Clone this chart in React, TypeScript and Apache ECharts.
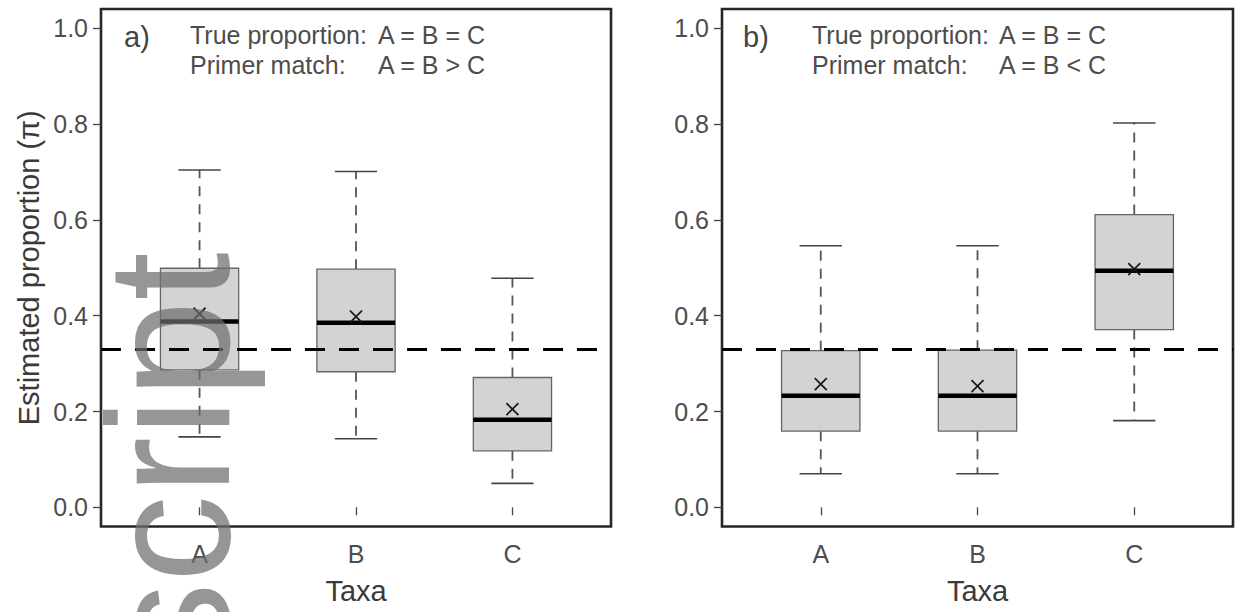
import React, { useEffect, useRef } from "react";
import * as echarts from "echarts";

const categories = ["A", "B", "C"];
const xPositions = [1, 2, 3];
const yTicks = [0, 0.2, 0.4, 0.6, 0.8, 1.0];
const trueProportion = 1 / 3;

// Panel a)
const aLower = [0.147, 0.143, 0.05];
const aQ1 = [0.287, 0.283, 0.118];
const aMedian = [0.388, 0.385, 0.183];
const aQ3 = [0.499, 0.497, 0.271];
const aUpper = [0.704, 0.701, 0.478];
const aMean = [0.404, 0.398, 0.205];

// Panel b)
const bLower = [0.07, 0.07, 0.181];
const bQ1 = [0.159, 0.159, 0.371];
const bMedian = [0.233, 0.233, 0.494];
const bQ3 = [0.327, 0.328, 0.611];
const bUpper = [0.546, 0.546, 0.802];
const bMean = [0.257, 0.253, 0.497];

const FONT = "'Liberation Sans', Arial, Helvetica, sans-serif";
const X_MIN = 0.37;
const X_MAX = 3.63;
const Y_MIN = -0.04;
const Y_MAX = 1.04;
const BOX_WIDTH = 0.5;
const CAP_WIDTH = 0.27;

function buildData(lo: number[], q1: number[], med: number[], q3: number[], up: number[], mean: number[]) {
  return xPositions.map((x, i) => [x, lo[i], q1[i], med[i], q3[i], up[i], mean[i]]);
}

function renderBox(params: any, api: any) {
  const x = api.value(0);
  const lo = api.value(1);
  const q1 = api.value(2);
  const med = api.value(3);
  const q3 = api.value(4);
  const up = api.value(5);
  const mean = api.value(6);
  const cx = api.coord([x, med])[0];
  const yOf = (v: number) => api.coord([x, v])[1];
  const hb = api.size([BOX_WIDTH, 0])[0] / 2;
  const hc = api.size([CAP_WIDTH, 0])[0] / 2;
  const whisker = { stroke: "#555", lineWidth: 1.8, lineDash: [10, 8] };
  const cap = { stroke: "#444", lineWidth: 1.6 };
  const my = yOf(mean);
  const m = 6;
  return {
    type: "group",
    children: [
      { type: "line", shape: { x1: cx, y1: yOf(q3), x2: cx, y2: yOf(up) }, style: whisker },
      { type: "line", shape: { x1: cx, y1: yOf(q1), x2: cx, y2: yOf(lo) }, style: whisker },
      { type: "line", shape: { x1: cx - hc, y1: yOf(up), x2: cx + hc, y2: yOf(up) }, style: cap },
      { type: "line", shape: { x1: cx - hc, y1: yOf(lo), x2: cx + hc, y2: yOf(lo) }, style: cap },
      {
        type: "rect",
        shape: { x: cx - hb, y: yOf(q3), width: hb * 2, height: yOf(q1) - yOf(q3) },
        style: { fill: "#d3d3d3", stroke: "#666", lineWidth: 1.3 },
      },
      { type: "line", shape: { x1: cx - hb, y1: yOf(med), x2: cx + hb, y2: yOf(med) }, style: { stroke: "#000", lineWidth: 4.5 } },
      { type: "line", shape: { x1: cx - m, y1: my - m, x2: cx + m, y2: my + m }, style: { stroke: "#1a1a1a", lineWidth: 1.8 } },
      { type: "line", shape: { x1: cx - m, y1: my + m, x2: cx + m, y2: my - m }, style: { stroke: "#1a1a1a", lineWidth: 1.8 } },
    ],
  };
}

function xAxisDef(gridIndex: number) {
  return {
    type: "value",
    gridIndex,
    min: X_MIN,
    max: X_MAX,
    name: "Taxa",
    nameLocation: "middle",
    nameGap: 50,
    nameTextStyle: { fontFamily: FONT, fontSize: 29, color: "#3a3a3a" },
    axisLine: { show: false },
    splitLine: { show: false },
    axisTick: { show: true, customValues: xPositions, length: 8, lineStyle: { color: "#444", width: 1.3 } },
    axisLabel: {
      customValues: xPositions,
      margin: 15,
      fontFamily: FONT,
      fontSize: 25,
      color: "#4d4d4d",
      formatter: (v: number) => categories[Math.round(v) - 1] ?? "",
    },
  };
}

function yAxisDef(gridIndex: number, withName: boolean) {
  return {
    type: "value",
    gridIndex,
    min: Y_MIN,
    max: Y_MAX,
    name: withName ? "Estimated proportion (π)" : "",
    nameLocation: "middle",
    nameGap: 58,
    nameTextStyle: { fontFamily: FONT, fontSize: 29, color: "#3a3a3a" },
    axisLine: { show: false },
    splitLine: { show: false },
    axisTick: { show: true, customValues: yTicks, length: 8, lineStyle: { color: "#444", width: 1.3 } },
    axisLabel: {
      customValues: yTicks,
      margin: 13,
      fontFamily: FONT,
      fontSize: 25,
      color: "#4d4d4d",
      formatter: (v: number) => v.toFixed(1),
    },
  };
}

function boxSeries(idx: number, data: number[][]) {
  return {
    type: "custom",
    xAxisIndex: idx,
    yAxisIndex: idx,
    renderItem: renderBox,
    encode: { x: 0, y: [1, 2, 3, 4, 5, 6] },
    data,
    silent: true,
    markLine: {
      silent: true,
      symbol: "none",
      label: { show: false },
      lineStyle: { color: "#000", width: 3.2, type: [20, 14] },
      data: [{ yAxis: trueProportion }],
    },
  };
}

function txt(x: number, y: number, text: string, size: number, color = "#4d4d4d") {
  return {
    type: "text",
    x,
    y,
    z: 50,
    style: { text, fill: color, font: `${size}px ${FONT}`, align: "left", verticalAlign: "middle" },
  };
}

export default function App() {
  const ref = useRef<HTMLDivElement>(null);
  useEffect(() => {
    if (!ref.current) return;
    const chart = echarts.init(ref.current, undefined, { renderer: "svg" });
    const option = {
      animation: false,
      backgroundColor: "#fff",
      grid: [
        { left: 101, top: 9, width: 510, height: 517.5, show: true, borderColor: "#262626", borderWidth: 2.6, backgroundColor: "transparent" },
        { left: 722, top: 9, width: 511, height: 517.5, show: true, borderColor: "#262626", borderWidth: 2.6, backgroundColor: "transparent" },
      ],
      xAxis: [xAxisDef(0), xAxisDef(1)],
      yAxis: [yAxisDef(0, true), yAxisDef(1, false)],
      series: [
        boxSeries(0, buildData(aLower, aQ1, aMedian, aQ3, aUpper, aMean)),
        boxSeries(1, buildData(bLower, bQ1, bMedian, bQ3, bUpper, bMean)),
      ],
      graphic: [
        txt(124, 37, "a)", 29, "#444"),
        txt(190, 35, "True proportion:", 25),
        txt(378, 35, "A = B = C", 25),
        txt(190, 65, "Primer match:", 25),
        txt(378, 65, "A = B > C", 25),
        txt(743, 37, "b)", 29, "#444"),
        txt(812, 35, "True proportion:", 25),
        txt(999, 35, "A = B = C", 25),
        txt(812, 65, "Primer match:", 25),
        txt(999, 65, "A = B < C", 25),
        {
          type: "text",
          x: 168,
          y: 252,
          rotation: Math.PI / 2,
          z: 100,
          style: {
            text: "script",
            fill: "rgba(110,110,110,0.72)",
            font: `175px ${FONT}`,
            align: "right",
            verticalAlign: "middle",
          },
        },
      ],
    };
    chart.setOption(option as any);
    return () => chart.dispose();
  }, []);
  return (
    <div
      ref={ref}
      style={{ position: "fixed", left: 0, top: 0, width: 1238, height: 612, background: "#fff" }}
    />
  );
}
